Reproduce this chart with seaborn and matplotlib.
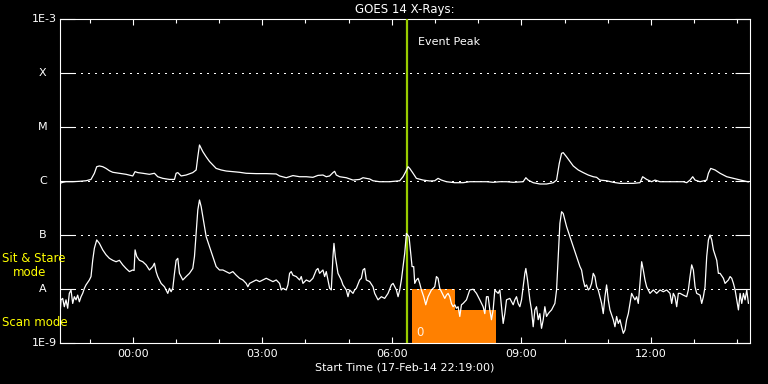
import matplotlib
matplotlib.use("Agg")
import matplotlib.pyplot as plt
import seaborn as sns
import pandas as pd
from matplotlib.ticker import FixedLocator, FuncFormatter, NullLocator

# ---------------- data (hours relative to 18-Feb-14 00:00, flux in W/m^2) ----------------
title = "GOES 14 X-Rays:"
start_label = "Start Time (17-Feb-14 22:19:00)"
class_levels = [1e-9, 1e-8, 1e-7, 1e-6, 1e-5, 1e-4, 1e-3]
class_labels = ["1E-9", "A", "B", "C", "M", "X", "1E-3"]
time_range = [-1.683, 14.29]
major_hours = [0, 3, 6, 9, 12]
minor_hours = list(range(-1, 15))
event_peak = 6.36
event_label = "Event Peak"
obs_start = [6.46, 7.455]
obs_end = [7.455, 8.42]
obs_top = [1.0e-8, 4.1e-9]
obs_label = "0"
mode_labels = ["Sit & Stare", "mode", "Scan mode"]

# long channel (1-8 A)
upper_hours = [
    -1.683, -1.621, -1.544, -1.389, -1.235, -1.081, -0.965, -0.887, -0.833, -0.771,
    -0.694, -0.617, -0.540, -0.462, -0.308, -0.154, 0.001, 0.055, 0.117, 0.233,
    0.387, 0.503, 0.580, 0.696, 0.851, 0.967, 1.005, 1.044, 1.121, 1.237,
    1.391, 1.469, 1.507, 1.546, 1.623, 1.701, 1.778, 1.855, 1.932, 2.048,
    2.164, 2.318, 2.473, 2.627, 2.859, 3.091, 3.323, 3.400, 3.555, 3.709,
    3.864, 4.018, 4.172, 4.288, 4.404, 4.481, 4.559, 4.636, 4.675, 4.713,
    4.791, 4.945, 5.100, 5.254, 5.331, 5.486, 5.563, 5.717, 5.949, 6.181,
    6.258, 6.320, 6.374, 6.413, 6.490, 6.567, 6.722, 6.876, 6.992, 7.069,
    7.147, 7.263, 7.456, 7.649, 7.803, 8.035, 8.190, 8.344, 8.499, 8.653,
    8.808, 9.039, 9.101, 9.155, 9.271, 9.425, 9.580, 9.735, 9.812, 9.874,
    9.928, 9.966, 10.044, 10.121, 10.198, 10.314, 10.430, 10.546, 10.661, 10.739,
    10.816, 10.970, 11.125, 11.280, 11.434, 11.588, 11.743, 11.805, 11.897, 12.013,
    12.090, 12.207, 12.515, 12.747, 12.824, 12.902, 12.964, 13.018, 13.134, 13.288,
    13.327, 13.381, 13.481, 13.597, 13.752, 13.906, 14.061, 14.254,
]
upper_flux = [
    9.05e-7, 9.45e-7, 9.7e-7, 9.7e-7, 9.86e-7, 1.01e-6, 1.07e-6, 1.39e-6, 1.84e-6, 1.9e-6,
    1.84e-6, 1.71e-6, 1.55e-6, 1.45e-6, 1.39e-6, 1.33e-6, 1.24e-6, 1.49e-6, 1.43e-6, 1.39e-6,
    1.33e-6, 1.39e-6, 1.20e-6, 1.12e-6, 1.07e-6, 1.07e-6, 1.39e-6, 1.43e-6, 1.24e-6, 1.29e-6,
    1.43e-6, 1.6e-6, 2.8e-6, 4.65e-6, 3.5e-6, 2.8e-6, 2.3e-6, 1.98e-6, 1.71e-6, 1.6e-6,
    1.53e-6, 1.49e-6, 1.45e-6, 1.39e-6, 1.37e-6, 1.37e-6, 1.35e-6, 1.24e-6, 1.15e-6, 1.26e-6,
    1.20e-6, 1.20e-6, 1.17e-6, 1.27e-6, 1.29e-6, 1.20e-6, 1.24e-6, 1.43e-6, 1.51e-6, 1.29e-6,
    1.20e-6, 1.15e-6, 1.04e-6, 1.07e-6, 1.15e-6, 1.09e-6, 1.01e-6, 9.7e-7, 9.7e-7, 1.01e-6,
    1.20e-6, 1.49e-6, 1.84e-6, 1.71e-6, 1.39e-6, 1.12e-6, 1.04e-6, 1.0e-6, 1.01e-6, 1.12e-6,
    1.04e-6, 9.7e-7, 9.3e-7, 9.3e-7, 9.7e-7, 9.7e-7, 9.7e-7, 9.45e-7, 9.7e-7, 9.7e-7,
    9.45e-7, 9.7e-7, 1.15e-6, 1.04e-6, 9.3e-7, 8.8e-7, 8.8e-7, 9.3e-7, 1.04e-6, 2.1e-6,
    3.25e-6, 3.35e-6, 2.8e-6, 2.3e-6, 1.9e-6, 1.6e-6, 1.43e-6, 1.29e-6, 1.20e-6, 1.17e-6,
    1.04e-6, 1.01e-6, 9.45e-7, 9.05e-7, 9.05e-7, 9.05e-7, 9.3e-7, 1.20e-6, 1.07e-6, 9.7e-7,
    1.04e-6, 9.7e-7, 9.7e-7, 9.7e-7, 9.3e-7, 1.04e-6, 1.20e-6, 1.04e-6, 9.7e-7, 1.04e-6,
    1.39e-6, 1.71e-6, 1.6e-6, 1.39e-6, 1.20e-6, 1.12e-6, 1.04e-6, 9.6e-7,
]

# short channel (0.5-4 A)
lower_hours = [
    -1.683, -1.660, -1.621, -1.583, -1.544, -1.505, -1.467, -1.428, -1.389, -1.351,
    -1.312, -1.274, -1.235, -1.196, -1.158, -1.119, -1.081, -1.003, -0.965, -0.926,
    -0.887, -0.833, -0.771, -0.694, -0.617, -0.540, -0.462, -0.385, -0.308, -0.231,
    -0.154, -0.076, 0.001, 0.032, 0.055, 0.094, 0.155, 0.233, 0.310, 0.387,
    0.464, 0.503, 0.542, 0.580, 0.658, 0.735, 0.812, 0.851, 0.889, 0.928,
    0.967, 1.005, 1.044, 1.082, 1.160, 1.237, 1.314, 1.391, 1.430, 1.469,
    1.507, 1.546, 1.585, 1.623, 1.662, 1.701, 1.778, 1.855, 1.932, 2.009,
    2.087, 2.164, 2.241, 2.318, 2.396, 2.473, 2.550, 2.627, 2.666, 2.705,
    2.782, 2.859, 2.937, 3.014, 3.091, 3.168, 3.246, 3.323, 3.400, 3.439,
    3.477, 3.555, 3.593, 3.632, 3.670, 3.709, 3.786, 3.864, 3.902, 3.941,
    4.018, 4.095, 4.172, 4.250, 4.288, 4.327, 4.404, 4.443, 4.481, 4.520,
    4.559, 4.597, 4.636, 4.659, 4.690, 4.752, 4.829, 4.868, 4.945, 4.984,
    5.022, 5.100, 5.138, 5.177, 5.254, 5.293, 5.331, 5.370, 5.408, 5.486,
    5.563, 5.602, 5.679, 5.756, 5.833, 5.911, 5.988, 6.027, 6.104, 6.143,
    6.181, 6.220, 6.258, 6.297, 6.336, 6.397, 6.428, 6.467, 6.505, 6.529,
    6.567, 6.606, 6.644, 6.683, 6.737, 6.784, 6.838, 6.876, 6.915, 6.954,
    6.992, 7.031, 7.069, 7.108, 7.147, 7.185, 7.224, 7.263, 7.301, 7.340,
    7.378, 7.417, 7.456, 7.494, 7.533, 7.572, 7.610, 7.649, 7.726, 7.803,
    7.881, 7.958, 8.035, 8.112, 8.151, 8.190, 8.228, 8.267, 8.305, 8.344,
    8.383, 8.421, 8.460, 8.499, 8.537, 8.576, 8.614, 8.653, 8.730, 8.808,
    8.846, 8.885, 8.923, 8.962, 9.001, 9.039, 9.078, 9.101, 9.140, 9.194,
    9.232, 9.271, 9.310, 9.348, 9.387, 9.425, 9.464, 9.503, 9.541, 9.580,
    9.619, 9.657, 9.696, 9.735, 9.773, 9.812, 9.850, 9.889, 9.928, 9.966,
    10.005, 10.044, 10.121, 10.198, 10.275, 10.353, 10.391, 10.430, 10.468, 10.507,
    10.546, 10.584, 10.623, 10.661, 10.700, 10.739, 10.777, 10.816, 10.855, 10.893,
    10.932, 10.970, 11.009, 11.048, 11.125, 11.164, 11.202, 11.241, 11.280, 11.318,
    11.357, 11.395, 11.434, 11.473, 11.511, 11.550, 11.588, 11.627, 11.666, 11.704,
    11.743, 11.782, 11.820, 11.859, 11.897, 11.936, 11.975, 12.052, 12.129, 12.207,
    12.284, 12.361, 12.438, 12.477, 12.515, 12.554, 12.593, 12.631, 12.670, 12.747,
    12.824, 12.863, 12.902, 12.940, 12.979, 13.018, 13.056, 13.134, 13.172, 13.211,
    13.249, 13.288, 13.327, 13.365, 13.404, 13.443, 13.520, 13.558, 13.597, 13.674,
    13.713, 13.790, 13.829, 13.867, 13.906, 13.945, 13.983, 14.022, 14.061, 14.099,
    14.138, 14.176, 14.215, 14.254,
]
lower_flux = [
    3.3e-9, 6.3e-9, 6.7e-9, 4.7e-9, 6.3e-9, 4.4e-9, 8.3e-9, 9.6e-9, 5.4e-9, 7.2e-9,
    6.3e-9, 7.7e-9, 5.8e-9, 7.2e-9, 8.3e-9, 1.03e-8, 1.19e-8, 1.47e-8, 1.7e-8, 3.4e-8,
    5.7e-8, 8.1e-8, 7.0e-8, 5.3e-8, 4.3e-8, 3.7e-8, 3.4e-8, 3.2e-8, 3.4e-8, 2.8e-8,
    2.4e-8, 2.1e-8, 2.25e-8, 2.2e-8, 5.3e-8, 4.0e-8, 3.4e-8, 3.2e-8, 2.8e-8, 2.25e-8,
    2.6e-8, 3.0e-8, 2.1e-8, 1.7e-8, 1.27e-8, 1.10e-8, 8.3e-9, 1.03e-8, 8.9e-9, 1.03e-8,
    1.95e-8, 3.4e-8, 3.7e-8, 1.95e-8, 1.47e-8, 1.7e-8, 1.95e-8, 2.4e-8, 4.0e-8, 1.07e-7,
    2.9e-7, 4.45e-7, 3.35e-7, 2.2e-7, 1.43e-7, 9.3e-8, 6.1e-8, 4.0e-8, 2.6e-8, 2.25e-8,
    2.25e-8, 2.1e-8, 1.95e-8, 2.1e-8, 1.8e-8, 1.58e-8, 1.47e-8, 1.27e-8, 1.10e-8, 1.27e-8,
    1.37e-8, 1.47e-8, 1.37e-8, 1.47e-8, 1.58e-8, 1.47e-8, 1.37e-8, 1.47e-8, 1.27e-8, 9.6e-9,
    1.03e-8, 9.6e-9, 1.19e-8, 1.95e-8, 2.1e-8, 1.8e-8, 1.7e-8, 1.47e-8, 1.7e-8, 1.27e-8,
    1.47e-8, 1.37e-8, 1.58e-8, 2.25e-8, 2.4e-8, 1.95e-8, 2.25e-8, 1.7e-8, 2.1e-8, 1.47e-8,
    1.03e-8, 9.6e-9, 4.0e-8, 7.0e-8, 4.0e-8, 1.95e-8, 1.47e-8, 1.19e-8, 9.6e-9, 7.2e-9,
    9.6e-9, 8.3e-9, 9.6e-9, 1.03e-8, 1.47e-8, 1.58e-8, 2.25e-8, 2.4e-8, 1.47e-8, 1.37e-8,
    1.10e-8, 8.3e-9, 6.3e-9, 7.2e-9, 6.7e-9, 8.3e-9, 1.19e-8, 1.27e-8, 9.6e-9, 7.2e-9,
    9.6e-9, 1.47e-8, 2.6e-8, 4.6e-8, 1.07e-7, 9.3e-8, 5.3e-8, 2.6e-8, 2.6e-8, 1.27e-8,
    1.47e-8, 1.58e-8, 1.27e-8, 9.6e-9, 7.2e-9, 5.1e-9, 7.2e-9, 8.3e-9, 9.6e-9, 1.03e-8,
    1.10e-8, 1.7e-8, 1.58e-8, 1.03e-8, 8.9e-9, 7.7e-9, 6.7e-9, 7.7e-9, 8.3e-9, 7.2e-9,
    5.4e-9, 4.7e-9, 5.1e-9, 4.4e-9, 4.7e-9, 3.1e-9, 5.1e-9, 5.4e-9, 6.3e-9, 9.6e-9,
    9.9e-9, 8.3e-9, 6.3e-9, 4.7e-9, 3.5e-9, 7.2e-9, 7.2e-9, 4.1e-9, 2.7e-9, 4.1e-9,
    9.6e-9, 8.9e-9, 8.3e-9, 9.6e-9, 4.7e-9, 2.3e-9, 3.5e-9, 6.3e-9, 6.7e-9, 5.1e-9,
    6.3e-9, 7.2e-9, 5.4e-9, 4.7e-9, 6.3e-9, 1.10e-8, 1.95e-8, 2.4e-8, 1.47e-8, 6.3e-9,
    4.1e-9, 2.0e-9, 4.1e-9, 4.7e-9, 2.7e-9, 3.5e-9, 1.87e-9, 2.7e-9, 4.7e-9, 3.1e-9,
    3.5e-9, 3.8e-9, 4.1e-9, 4.7e-9, 5.4e-9, 9.6e-9, 4.0e-8, 1.64e-7, 2.7e-7, 2.5e-7,
    1.9e-7, 1.43e-7, 9.3e-8, 6.1e-8, 4.0e-8, 2.6e-8, 2.25e-8, 1.47e-8, 1.10e-8, 1.19e-8,
    9.6e-9, 1.03e-8, 1.27e-8, 1.95e-8, 1.7e-8, 1.10e-8, 9.6e-9, 7.2e-9, 5.4e-9, 3.5e-9,
    7.2e-9, 1.19e-8, 6.3e-9, 4.1e-9, 2.7e-9, 2.0e-9, 3.1e-9, 2.3e-9, 2.7e-9, 2.0e-9,
    1.51e-9, 1.74e-9, 2.7e-9, 3.5e-9, 5.4e-9, 8.3e-9, 7.2e-9, 6.3e-9, 7.2e-9, 5.4e-9,
    1.27e-8, 3.2e-8, 2.25e-8, 1.47e-8, 1.10e-8, 9.6e-9, 8.3e-9, 9.6e-9, 8.3e-9, 9.6e-9,
    8.9e-9, 9.6e-9, 8.3e-9, 5.4e-9, 8.3e-9, 7.2e-9, 4.7e-9, 8.3e-9, 8.3e-9, 7.7e-9,
    7.2e-9, 9.6e-9, 1.7e-8, 2.8e-8, 2.25e-8, 1.10e-8, 8.3e-9, 7.7e-9, 5.4e-9, 7.2e-9,
    1.10e-8, 4.0e-8, 8.1e-8, 1.0e-7, 8.1e-8, 5.3e-8, 3.4e-8, 1.95e-8, 1.95e-8, 1.58e-8,
    1.27e-8, 1.47e-8, 1.7e-8, 1.58e-8, 1.27e-8, 9.6e-9, 6.3e-9, 4.1e-9, 8.3e-9, 5.4e-9,
    8.3e-9, 6.3e-9, 9.6e-9, 5.4e-9,
]

assert len(upper_hours) == len(upper_flux)
assert len(lower_hours) == len(lower_flux)

# ---------------- style ----------------
sns.set_theme(style="ticks", rc={
    "figure.facecolor": "black", "axes.facecolor": "black",
    "axes.edgecolor": "white", "text.color": "white",
    "xtick.color": "white", "ytick.color": "white",
})
plt.rcParams["font.family"] = ["DejaVu Sans"]

W, H = 768, 384
fig = plt.figure(figsize=(W / 100, H / 100), dpi=100, facecolor="black")
ax = fig.add_axes([60 / W, 1 - 343 / H, 690 / W, 324 / H])
ax.set_facecolor("black")
ax.set_yscale("log")
ax.set_xlim(*time_range)
ax.set_ylim(class_levels[0], class_levels[-1])

# observing-mode blocks
for s, e, t in zip(obs_start, obs_end, obs_top):
    ax.bar(s, t - class_levels[0], width=e - s, bottom=class_levels[0],
           align="edge", color="#ff8000", linewidth=0, zorder=1)
ax.annotate(obs_label, xy=(obs_start[0], class_levels[0]), xycoords="data",
            xytext=(3.5, 7.5), textcoords="offset points", ha="left", va="center",
            color="#fff0e0", fontsize=8.5, zorder=5)

# dotted class levels
for lv in class_levels[1:-1]:
    ax.axhline(lv, color="white", lw=0.75, ls=(0, (1.0, 5.0)), zorder=2,
               antialiased=False)

# event peak line
ax.axvline(event_peak, color="#99cc00", lw=1.6, zorder=3)
ax.annotate(event_label, xy=(event_peak, 1.0), xycoords=("data", "axes fraction"),
            xytext=(7.5, -16.5), textcoords="offset points", ha="left", va="center",
            color="white", fontsize=8)

# curves
sns.lineplot(x=upper_hours, y=upper_flux, ax=ax, color="white", lw=0.9,
             estimator=None, sort=False, zorder=4)
sns.lineplot(x=lower_hours, y=lower_flux, ax=ax, color="white", lw=0.9,
             estimator=None, sort=False, zorder=4)

# axes / ticks
for sp in ax.spines.values():
    sp.set_color("white")
    sp.set_linewidth(0.8)
ax.yaxis.set_major_locator(FixedLocator(class_levels))
ax.yaxis.set_minor_locator(NullLocator())
ax.tick_params(axis="y", which="major", direction="in", length=10.5, width=0.8,
               left=True, right=True, labelleft=False)
ax.xaxis.set_major_locator(FixedLocator(major_hours))
ax.xaxis.set_minor_locator(FixedLocator(minor_hours))
ax.xaxis.set_major_formatter(FuncFormatter(lambda h, p: f"{int(round(h)) % 24:02d}:00"))
ax.tick_params(axis="x", which="major", direction="in", length=4.6, width=0.8,
               top=True, bottom=True, labelsize=8, labelcolor="white", pad=4)
ax.tick_params(axis="x", which="minor", direction="in", length=2.8, width=0.8,
               top=True, bottom=True)
ax.set_xlabel("")
ax.set_ylabel("")

for lv, lab in zip(class_levels, class_labels):
    if lab.startswith("1E"):
        ax.annotate(lab, xy=(0, lv), xycoords=("axes fraction", "data"),
                    xytext=(-2.5, 0), textcoords="offset points",
                    ha="right", va="center", color="white", fontsize=8)
    else:
        ax.annotate(lab, xy=(0, lv), xycoords=("axes fraction", "data"),
                    xytext=(-12.3, 0), textcoords="offset points",
                    ha="center", va="center", color="white", fontsize=8)

fig.text(405 / W, 1 - 9 / H, title, ha="center", va="center", color="white", fontsize=8.5)
fig.text(405 / W, 1 - 368 / H, start_label, ha="center", va="center", color="white", fontsize=8)

yellow = "#ffff00"
fig.text(2 / W, 1 - 259 / H, mode_labels[0], ha="left", va="center", color=yellow, fontsize=8.5, zorder=10)
fig.text(13 / W, 1 - 272 / H, mode_labels[1], ha="left", va="center", color=yellow, fontsize=8.5, zorder=10)
fig.text(2 / W, 1 - 323 / H, mode_labels[2], ha="left", va="center", color=yellow, fontsize=8.5, zorder=10)

fig.savefig("out.png", dpi=100, facecolor="black")
